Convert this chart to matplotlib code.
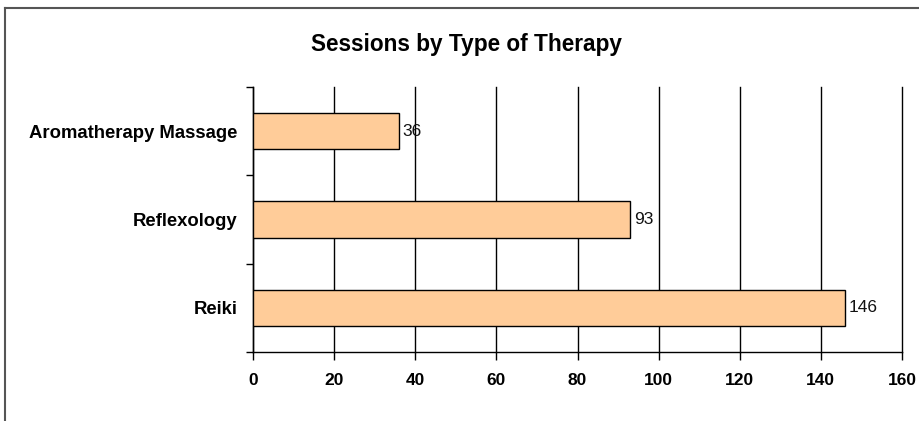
import matplotlib
matplotlib.use("Agg")
import matplotlib.pyplot as plt
from matplotlib.lines import Line2D

categories = ["Reiki", "Reflexology", "Aromatherapy Massage"]
sessions = [146, 93, 36]
x_ticks = [0, 20, 40, 60, 80, 100, 120, 140, 160]

plt.rcParams['font.family'] = ['Liberation Sans', 'DejaVu Sans']

fig = plt.figure(figsize=(9.2, 4.21), dpi=100)
W, H = 920, 421
ax = fig.add_axes([253 / W, 1 - 352 / H, (902 - 253) / W, (352 - 87) / H])

pos = list(range(len(categories)))
bars = ax.barh(pos, sessions, height=0.41, color="#FFCC99", edgecolor="black", linewidth=1, zorder=3)
for p, v in zip(pos, sessions):
    ax.text(v + 0.9, p, str(v), va="center", ha="left", fontsize=12.5, color="#111111", zorder=4)

ax.set_xlim(0, 160)
ax.set_ylim(-0.5, len(categories) - 0.5)
ax.set_xticks(x_ticks)
ax.set_xticklabels([str(t) for t in x_ticks], fontweight="bold", fontsize=12.5)
ax.tick_params(axis="x", length=6, width=1, pad=9, direction="out")
ax.set_yticks(pos)
ax.set_yticklabels(categories, fontweight="bold", fontsize=13.3)
ax.set_yticks([-0.5, 0.5, 1.5, 2.5], minor=True)
ax.tick_params(axis="y", which="major", length=0, pad=11)
ax.tick_params(axis="y", which="minor", length=5, width=1, direction="out")

ax.grid(axis="x", color="black", linewidth=1, zorder=0)
ax.set_axisbelow(True)
for gl in ax.get_xgridlines():
    gl.set_clip_on(False)
for s in ["top", "right"]:
    ax.spines[s].set_visible(False)
for s in ["left", "bottom"]:
    ax.spines[s].set_linewidth(1)
    ax.spines[s].set_color("black")

fig.text(467 / W, 1 - 45 / H, "Sessions by Type of Therapy", ha="center", va="center",
         fontsize=16.3, fontweight="bold")

# outer frame
fig.add_artist(Line2D([5 / W, 5 / W], [0, 1 - 8 / H], transform=fig.transFigure, color="#555555", linewidth=1.5))
fig.add_artist(Line2D([5 / W, 1], [1 - 8 / H, 1 - 8 / H], transform=fig.transFigure, color="#555555", linewidth=1.5))

fig.savefig("out.png", dpi=100)
